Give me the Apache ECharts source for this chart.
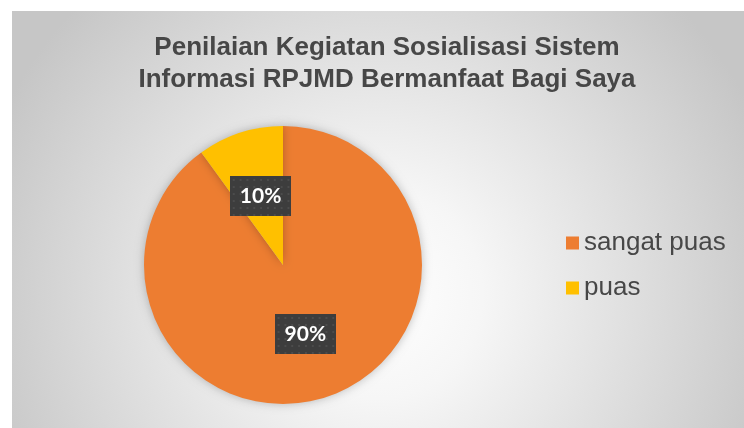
<!DOCTYPE html>
<html>
<head>
	<meta charset="utf-8">
	<title>Penilaian Kegiatan Sosialisasi</title>
	<script src="https://cdn.jsdelivr.net/npm/echarts@6/dist/echarts.min.js"></script>
	<style>
		html, body { margin: 0; padding: 0; background: #ffffff; }
		#main { width: 744px; height: 428px; }
	</style>
</head>
<body>
<div id="main"></div>
<script>
	// data
	var titleLines = ['Penilaian Kegiatan Sosialisasi Sistem', 'Informasi RPJMD Bermanfaat Bagi Saya'];
	var categories = ['sangat puas', 'puas'];
	var values = [90, 10];
	var colors = ['#ED7D31', '#FFC000'];

	// dark dotted box behind the data labels
	function dotBox(w, h) {
		var c = document.createElement('canvas');
		c.width = w;
		c.height = h;
		var ctx = c.getContext('2d');
		ctx.fillStyle = '#3d3d3d';
		ctx.fillRect(0, 0, w, h);
		ctx.fillStyle = '#4c4c4c';
		for (var y = 3; y < h; y += 7) {
			for (var x = 3; x < w; x += 7) {
				ctx.fillRect(x, y, 2, 2);
			}
		}
		return c;
	}

	var pieData = [];
	for (var i = 0; i < categories.length; i++) {
		pieData.push({name: categories[i], value: values[i], itemStyle: {color: colors[i]}});
	}

	var myChart = echarts.init(document.getElementById('main'));
	var option = {
		animation: false,
		graphic: [{
			type: 'rect',
			z: -10,
			shape: {x: 12, y: 11, width: 732, height: 417},
			style: {
				fill: {
					type: 'radial', x: 0.5, y: 0.68, r: 1.0,
					colorStops: [
						{offset: 0, color: '#ffffff'},
						{offset: 0.25, color: '#f6f6f6'},
						{offset: 1, color: '#c6c6c6'}
					]
				}
			}
		}],
		title: {
			text: titleLines.join('\n'),
			left: 387,
			top: 32,
			padding: 0,
			textAlign: 'center',
			textStyle: {
				fontFamily: 'Liberation Sans, Arial, sans-serif',
				fontSize: 26,
				fontWeight: 'bold',
				color: '#474747',
				lineHeight: 32
			}
		},
		legend: {
			orient: 'vertical',
			left: 566,
			top: 228,
			padding: 0,
			icon: 'rect',
			itemWidth: 13,
			itemHeight: 13,
			itemGap: 15,
			data: categories,
			textStyle: {
				fontFamily: 'Liberation Sans, Arial, sans-serif',
				fontSize: 26,
				lineHeight: 30,
				color: '#474747'
			}
		},
		series: [{
			type: 'pie',
			center: [283, 265],
			radius: 139,
			startAngle: 90,
			clockwise: true,
			itemStyle: {
				borderWidth: 0,
				shadowBlur: 10,
				shadowColor: 'rgba(0,0,0,0.25)'
			},
			label: {
				show: true,
				position: 'inside',
				formatter: function (p) { return Math.round(p.percent) + '%'; },
				fontFamily: 'Lato, Open Sans, sans-serif',
				fontWeight: 'bold',
				fontSize: 21,
				lineHeight: 22,
				color: '#ffffff',
				padding: [9, 10],
				backgroundColor: {image: dotBox(63, 40)},
				shadowColor: 'rgba(0,0,0,0.5)',
				shadowBlur: 6,
				shadowOffsetX: 4,
				shadowOffsetY: 4
			},
			labelLine: {show: false},
			emphasis: {disabled: true},
			data: pieData
		}]
	};

	option && myChart.setOption(option);
</script>
</body>
</html>
